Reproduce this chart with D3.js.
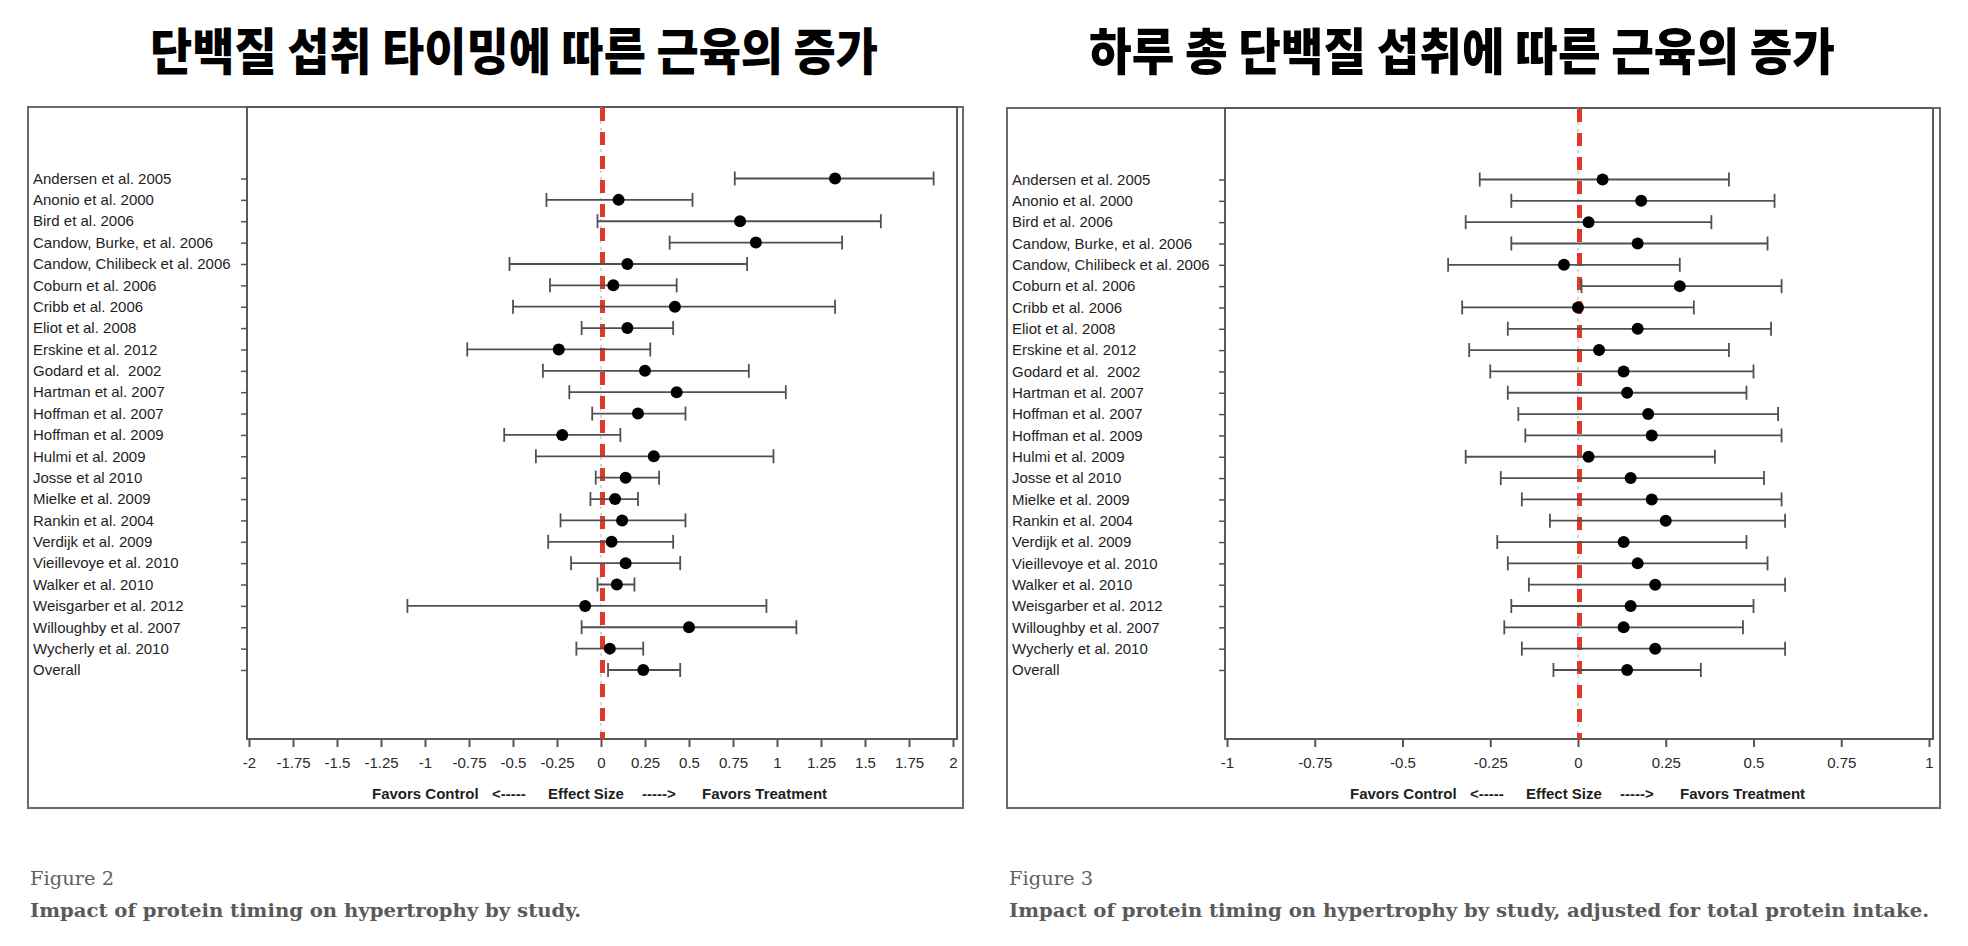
<!DOCTYPE html>
<html>
<head>
<meta charset="utf-8">
<script src="https://cdn.jsdelivr.net/npm/d3@7/dist/d3.min.js"></script>
<style>
  html, body { margin: 0; padding: 0; background: #fff; }
  svg { display: block; }
  text { white-space: pre; }
</style>
</head>
<body>
<svg id="chart" width="1968" height="946"></svg>
<script>
// ---------------- DATA ----------------
const studies = [
  "Andersen et al. 2005", "Anonio et al. 2000", "Bird et al. 2006",
  "Candow, Burke, et al. 2006", "Candow, Chilibeck et al. 2006",
  "Coburn et al. 2006", "Cribb et al. 2006", "Eliot et al. 2008",
  "Erskine et al. 2012", "Godard et al.  2002", "Hartman et al. 2007",
  "Hoffman et al. 2007", "Hoffman et al. 2009", "Hulmi et al. 2009",
  "Josse et al 2010", "Mielke et al. 2009", "Rankin et al. 2004",
  "Verdijk et al. 2009", "Vieillevoye et al. 2010", "Walker et al. 2010",
  "Weisgarber et al. 2012", "Willoughby et al. 2007", "Wycherly et al. 2010",
  "Overall"
];

// Figure 2: protein timing
const fig2Est = [1.33, 0.10, 0.79, 0.88, 0.15, 0.07, 0.42, 0.15, -0.24, 0.25, 0.43, 0.21, -0.22,
                 0.30, 0.14, 0.08, 0.12, 0.06, 0.14, 0.09, -0.09, 0.50, 0.05, 0.24];
const fig2Lo  = [0.76, -0.31, -0.02, 0.39, -0.52, -0.29, -0.50, -0.11, -0.76, -0.33, -0.18, -0.05, -0.55,
                 -0.37, -0.03, -0.06, -0.23, -0.30, -0.17, -0.02, -1.10, -0.11, -0.14, 0.04];
const fig2Hi  = [1.89, 0.52, 1.59, 1.37, 0.83, 0.43, 1.33, 0.41, 0.28, 0.84, 1.05, 0.48, 0.11,
                 0.98, 0.33, 0.21, 0.48, 0.41, 0.45, 0.19, 0.94, 1.11, 0.24, 0.45];
const fig2Ticks = [-2, -1.75, -1.5, -1.25, -1, -0.75, -0.5, -0.25, 0, 0.25, 0.5, 0.75, 1, 1.25, 1.5, 1.75, 2];

// Figure 3: adjusted for total protein intake
const fig3Est = [0.07, 0.18, 0.03, 0.17, -0.04, 0.29, 0.00, 0.17, 0.06, 0.13, 0.14, 0.20, 0.21,
                 0.03, 0.15, 0.21, 0.25, 0.13, 0.17, 0.22, 0.15, 0.13, 0.22, 0.14];
const fig3Lo  = [-0.28, -0.19, -0.32, -0.19, -0.37, 0.01, -0.33, -0.20, -0.31, -0.25, -0.20, -0.17, -0.15,
                 -0.32, -0.22, -0.16, -0.08, -0.23, -0.20, -0.14, -0.19, -0.21, -0.16, -0.07];
const fig3Hi  = [0.43, 0.56, 0.38, 0.54, 0.29, 0.58, 0.33, 0.55, 0.43, 0.50, 0.48, 0.57, 0.58,
                 0.39, 0.53, 0.58, 0.59, 0.48, 0.54, 0.59, 0.50, 0.47, 0.59, 0.35];
const fig3Ticks = [-1, -0.75, -0.5, -0.25, 0, 0.25, 0.5, 0.75, 1];

const titles = ["단백질 섭취 타이밍에 따른 근육의 증가", "하루 총 단백질 섭취에 따른 근육의 증가"];
const figLabels = ["Figure 2", "Figure 3"];
const captions = ["Impact of protein timing on hypertrophy by study.",
                  "Impact of protein timing on hypertrophy by study, adjusted for total protein intake."];
const axisNote = ["Favors Control", "<-----", "Effect Size", "----->", "Favors Treatment"];

// ---------------- DRAW ----------------
const svg = d3.select("#chart");

function panel(cfg) {
  const g = svg.append("g");
  // outer frame
  g.append("rect")
    .attr("x", cfg.frameL).attr("y", cfg.top)
    .attr("width", cfg.frameR - cfg.frameL).attr("height", cfg.frameB - cfg.top)
    .attr("fill", "none").attr("stroke", "#6a6a6a").attr("stroke-width", 2);
  // plot box
  g.append("rect")
    .attr("x", cfg.plotL).attr("y", cfg.top)
    .attr("width", cfg.plotR - cfg.plotL).attr("height", cfg.plotB - cfg.top)
    .attr("fill", "none").attr("stroke", "#5a5a5a").attr("stroke-width", 2);

  const x = d3.scaleLinear().domain(cfg.domain).range([cfg.plotL + 2, cfg.plotR - 4]);
  const y = d3.scalePoint().domain(studies).range([cfg.top + 71.5, cfg.plotB - 69]);

  // x axis
  const xa = g.append("g").attr("transform", `translate(0,${cfg.plotB})`)
    .call(d3.axisBottom(x).tickValues(cfg.ticks).tickFormat(d => String(d)).tickSize(8).tickPadding(10));
  xa.select(".domain").remove();
  xa.selectAll(".tick line").attr("stroke", "#555").attr("stroke-width", 2);
  xa.selectAll(".tick text").attr("fill", "#2a2a2a")
    .style("font-family", "'Liberation Sans', Arial, sans-serif").style("font-size", "15px");

  // y axis (ticks only) + left aligned labels
  const ya = g.append("g").attr("transform", `translate(${cfg.plotL},0)`)
    .call(d3.axisLeft(y).tickSize(6).tickFormat(""));
  ya.select(".domain").remove();
  ya.selectAll(".tick line").attr("stroke", "#555").attr("stroke-width", 1.5);

  g.append("g").selectAll("text").data(studies).join("text")
    .attr("x", cfg.frameL + 5).attr("y", d => y(d))
    .attr("dy", "0.35em")
    .attr("fill", "#1e1e1e")
    .style("font-family", "'Liberation Sans', Arial, sans-serif").style("font-size", "15px")
    .text(d => d);

  // reference lines at 0
  g.append("line").attr("x1", x(0)).attr("x2", x(0)).attr("y1", cfg.top).attr("y2", cfg.plotB)
    .attr("stroke", "#b0b0b0").attr("stroke-width", 1).attr("stroke-dasharray", "3,4");
  g.append("line").attr("x1", x(0) + 1.5).attr("x2", x(0) + 1.5).attr("y1", cfg.top + 1).attr("y2", cfg.plotB)
    .attr("stroke", "#de3a27").attr("stroke-width", 5).attr("stroke-dasharray", "13,11");

  // error bars
  const rows = studies.map((s, i) => ({ s, est: cfg.est[i], lo: cfg.lo[i], hi: cfg.hi[i] }));
  const eb = g.append("g").attr("stroke", "#505050").attr("stroke-width", 1.8).attr("fill", "none");
  eb.selectAll("line.bar").data(rows).join("line").attr("class", "bar")
    .attr("x1", d => x(d.lo)).attr("x2", d => x(d.hi)).attr("y1", d => y(d.s)).attr("y2", d => y(d.s));
  eb.selectAll("line.capL").data(rows).join("line").attr("class", "capL")
    .attr("x1", d => x(d.lo)).attr("x2", d => x(d.lo)).attr("y1", d => y(d.s) - 7).attr("y2", d => y(d.s) + 7);
  eb.selectAll("line.capR").data(rows).join("line").attr("class", "capR")
    .attr("x1", d => x(d.hi)).attr("x2", d => x(d.hi)).attr("y1", d => y(d.s) - 7).attr("y2", d => y(d.s) + 7);
  g.append("g").selectAll("circle").data(rows).join("circle")
    .attr("cx", d => x(d.est)).attr("cy", d => y(d.s)).attr("r", 6).attr("fill", "#000");

  // bottom note
  const offs = [125, 245, 301, 395, 455];
  const note = g.append("text").attr("y", cfg.plotB + 60)
    .attr("fill", "#1e1e1e")
    .style("font-family", "'Liberation Sans', Arial, sans-serif").style("font-size", "15px").style("font-weight", "bold");
  note.selectAll("tspan").data(axisNote).join("tspan")
    .attr("x", (d, i) => cfg.plotL + offs[i]).text(d => d);

  // title
  svg.append("text").attr("x", cfg.titleX).attr("y", 48)
    .attr("text-anchor", "middle").attr("dominant-baseline", "central")
    .attr("textLength", cfg.titleW).attr("lengthAdjust", "spacingAndGlyphs")
    .attr("fill", "#000")
    .style("font-family", "'Noto Sans CJK KR', sans-serif").style("font-size", "50px").style("font-weight", "900")
    .text(cfg.title);

  // caption
  svg.append("text").attr("x", cfg.frameL + 2).attr("y", 885)
    .attr("fill", "#606060")
    .attr("textLength", cfg.figW).attr("lengthAdjust", "spacingAndGlyphs")
    .style("font-family", "'DejaVu Serif', serif").style("font-stretch", "condensed").style("font-size", "19px")
    .text(cfg.fig);
  svg.append("text").attr("x", cfg.frameL + 2).attr("y", 917)
    .attr("fill", "#5a5a5a")
    .attr("textLength", cfg.capW).attr("lengthAdjust", "spacingAndGlyphs")
    .style("font-family", "'DejaVu Serif', serif").style("font-stretch", "condensed").style("font-size", "19px").style("font-weight", "bold")
    .text(cfg.caption);
}

panel({
  frameL: 28, frameR: 963, frameB: 808, top: 107, plotL: 247, plotR: 957, plotB: 739,
  domain: [-2, 2], ticks: fig2Ticks, est: fig2Est, lo: fig2Lo, hi: fig2Hi,
  title: titles[0], titleX: 514, titleW: 728,
  fig: figLabels[0], figW: 84, caption: captions[0], capW: 551
});
panel({
  frameL: 1007, frameR: 1940, frameB: 808, top: 108, plotL: 1225, plotR: 1933, plotB: 739,
  domain: [-1, 1], ticks: fig3Ticks, est: fig3Est, lo: fig3Lo, hi: fig3Hi,
  title: titles[1], titleX: 1462, titleW: 746,
  fig: figLabels[1], figW: 84, caption: captions[1], capW: 920
});
</script>
</body>
</html>
